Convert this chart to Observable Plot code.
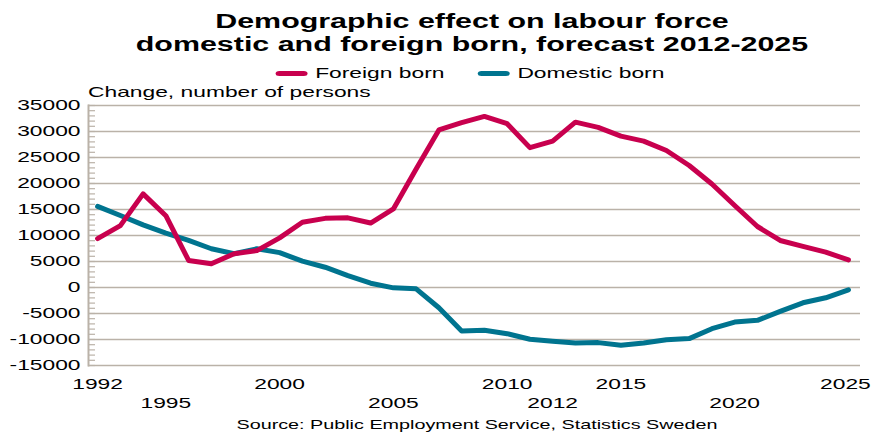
<!DOCTYPE html>
<html><head><meta charset="utf-8">
<script src="https://cdn.jsdelivr.net/npm/d3@7"></script>
<script src="https://cdn.jsdelivr.net/npm/@observablehq/plot@0.6"></script>
<style>
body{margin:0;background:#fff;font-family:"Liberation Sans",Arial,sans-serif;width:872px;height:432px;overflow:hidden;position:relative;color:#000}
.abs{position:absolute;white-space:nowrap}
#title{left:472px;top:10px;transform:translateX(-50%) scaleX(1.52);font-weight:bold;font-size:20px;line-height:23px;text-align:center}
#legend{left:470px;top:64px;transform:translateX(-50%) scaleX(1.52);font-size:15px;line-height:18px;display:flex;align-items:center}
.sw{display:inline-block;width:21px;height:5px;border-radius:3px;margin-right:5px}
#ylab{left:88px;top:83px;transform-origin:0 0;transform:scaleX(1.52);font-size:15px;line-height:18px}
#chart{position:absolute;left:0;top:82px}
#source{left:477px;top:417px;transform:translateX(-50%) scaleX(1.52);font-size:13px;line-height:16px}
</style></head>
<body>
<div id="title" class="abs">Demographic effect on labour force<br>domestic and foreign born, forecast 2012-2025</div>
<div id="legend" class="abs"><span class="sw" style="background:#c8004e"></span><span>Foreign born</span><span class="sw" style="background:#00748f;margin-left:22px"></span><span>Domestic born</span></div>
<div id="ylab" class="abs">Change, number of persons</div>
<div id="chart"></div>
<div id="source" class="abs">Source: Public Employment Service, Statistics Sweden</div>
<script>
const years = [1992,1993,1994,1995,1996,1997,1998,1999,2000,2001,2002,2003,2004,2005,2006,2007,2008,2009,2010,2011,2012,2013,2014,2015,2016,2017,2018,2019,2020,2021,2022,2023,2024,2025];
const foreignBorn = [9400,11900,18000,13800,5200,4550,6500,7100,9550,12550,13300,13400,12400,15100,22800,30300,31700,32900,31500,26900,28150,31800,30800,29100,28150,26350,23460,19900,15770,11730,9040,7900,6800,5300];
const domesticBorn = [15600,13850,12050,10450,9050,7450,6500,7450,6700,5070,3900,2300,830,-70,-250,-3900,-8370,-8240,-8880,-9960,-10340,-10670,-10600,-11110,-10670,-10030,-9830,-7920,-6650,-6320,-4600,-2940,-1980,-440];
const yMajorTicks = [-15000,-10000,-5000,0,5000,10000,15000,20000,25000,30000,35000];
const yMinorTicks = d3.range(-15000, 35001, 1000);
const xTicksRow1 = [1992,2000,2010,2015];
const xTickLast = [2025];
const xTicksRow2 = [1995,2005,2012,2020];

const RED = "#c8004e", BLUE = "#00748f", GRID = "#bab2a8";
const SX = 1.52;
const rows = years.map((y, i) => ({year: y, foreign: foreignBorn[i], domestic: domesticBorn[i]}));
const fmt = d => String(d);

const chart = Plot.plot({
  width: 872, height: 332,
  marginLeft: 88, marginRight: 12, marginTop: 23, marginBottom: 49,
  x: {domain: [1992 - 0.4, 2025 + 0.53], label: null},
  y: {domain: [-15000, 35000], label: null},
  style: {fontFamily: "Liberation Sans, Arial, sans-serif", fontSize: "15px", color: "#000", background: "transparent", overflow: "visible"},
  marks: [
    Plot.ruleY(yMajorTicks, {stroke: GRID, strokeWidth: 1.6}),
    Plot.frame({anchor: "left", stroke: GRID, strokeWidth: 2}),
    Plot.axisY(yMinorTicks, {tickSize: -7, tickFormat: () => "", stroke: GRID, strokeWidth: 1.2}),
    Plot.axisY(yMajorTicks, {tickSize: 0, tickPadding: 8, tickFormat: fmt, fontSize: 15, fill: "#000"}),
    Plot.axisX(xTicksRow1, {anchor: "bottom", tickSize: 0, tickPadding: 13, tickFormat: fmt, fontSize: 15, fill: "#000"}),
    Plot.axisX(xTickLast, {anchor: "bottom", tickSize: 0, tickPadding: 13, tickFormat: fmt, fontSize: 15, fill: "#000", dx: -3}),
    Plot.axisX(xTicksRow2, {anchor: "bottom", tickSize: 0, tickPadding: 32, tickFormat: fmt, fontSize: 15, fill: "#000"}),
    Plot.line(rows, {x: "year", y: "domestic", stroke: BLUE, strokeWidth: 5, strokeLinejoin: "round", strokeLinecap: "round"}),
    Plot.line(rows, {x: "year", y: "foreign", stroke: RED, strokeWidth: 5, strokeLinejoin: "round", strokeLinecap: "round"})
  ]
});
chart.querySelectorAll("text").forEach(t => {
  t.setAttribute("transform", (t.getAttribute("transform") || "") + ` scale(${SX},1)`);
});
document.getElementById("chart").appendChild(chart);
</script>
</body></html>
